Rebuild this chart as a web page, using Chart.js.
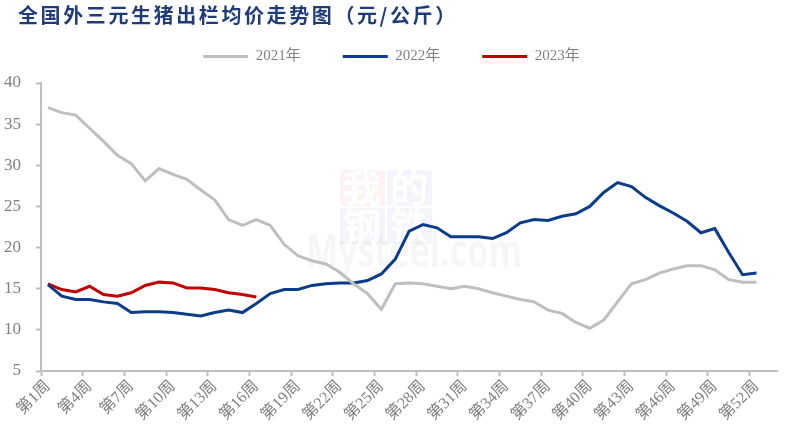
<!DOCTYPE html>
<html>
<head>
<meta charset="utf-8">
<script src="https://cdn.jsdelivr.net/npm/chart.js@4"></script>
<style>
    html, body { margin: 0; padding: 0; background: #fff; }
    #wrap { position: relative; width: 785px; height: 432px; }
    #title {
        position: absolute; left: 18px; top: 0px;
        font-family: "Noto Sans CJK SC", sans-serif; font-weight: bold;
        font-size: 20px; color: #1F3C7A; letter-spacing: 2.6px;
    }
</style>
</head>
<body>
<div id="wrap">
    <div id="title">全国外三元生猪出栏均价走势图（元/公斤）</div>
    <canvas id="priceChart" width="785" height="432"></canvas>
</div>
<script>
// weekly average price, yuan/kg
const weeks = [];
for (let i = 1; i <= 53; i++) weeks.push('第' + i + '周');

const price2021 = [37.0, 36.4, 36.1, 34.5, 32.9, 31.2, 30.2, 28.1, 29.6, 28.9,
    28.3, 27.0, 25.8, 23.4, 22.7, 23.4, 22.7, 20.4, 19.0, 18.4,
    18.0, 17.0, 15.6, 14.4, 12.5, 15.6, 15.7, 15.6, 15.3, 15.0,
    15.3, 15.0, 14.5, 14.1, 13.7, 13.4, 12.4, 12.0, 10.9, 10.2,
    11.2, 13.4, 15.6, 16.1, 16.9, 17.4, 17.8, 17.8, 17.3, 16.1,
    15.8, 15.8];

const price2022 = [15.5, 14.1, 13.7, 13.7, 13.4, 13.2, 12.1, 12.2, 12.2, 12.1,
    11.9, 11.7, 12.1, 12.4, 12.1, 13.2, 14.4, 14.9, 14.9, 15.4,
    15.6, 15.7, 15.7, 16.0, 16.8, 18.6, 22.0, 22.8, 22.4, 21.3,
    21.3, 21.3, 21.1, 21.8, 23.0, 23.4, 23.3, 23.8, 24.1, 25.0,
    26.7, 27.9, 27.4, 26.1, 25.1, 24.2, 23.2, 21.8, 22.3, 19.4,
    16.7, 16.9];

const price2023 = [15.6, 14.9, 14.6, 15.3, 14.3, 14.1, 14.5, 15.4, 15.8, 15.7,
    15.1, 15.1, 14.9, 14.5, 14.3, 14.0];

const yTicks = [5, 10, 15, 20, 25, 30, 35, 40];

const axisGray = '#BFBFBF';
const textGray = '#808080';
const serif = '"Liberation Serif", "Noto Sans CJK SC", serif';

// extra room between legend and plot
const legendSpacer = {
    id: 'legendSpacer',
    beforeInit(chart) {
        const fit = chart.legend.fit;
        chart.legend.fit = function() {
            fit.call(this);
            this.height += 9;
        };
    }
};

// faint site watermark behind the lines
const watermark = {
    id: 'watermark',
    beforeDatasetsDraw(chart) {
        const c = chart.ctx;
        c.save();
        const boxes = [
            { ch: '我', x: 340, y: 170, tint: 'rgba(220,80,80,0.07)' },
            { ch: '的', x: 387, y: 170, tint: 'rgba(60,90,170,0.06)' },
            { ch: '钢', x: 340, y: 208, tint: 'rgba(60,90,170,0.06)' },
            { ch: '铁', x: 387, y: 208, tint: 'rgba(60,90,170,0.06)' }
        ];
        c.font = 'bold 38px "Noto Sans CJK SC"';
        c.textAlign = 'center';
        c.textBaseline = 'middle';
        boxes.forEach(b => {
            c.fillStyle = b.tint;
            c.fillRect(b.x, b.y, 45, 36);
            c.fillStyle = 'rgba(255,255,255,0.9)';
            c.fillText(b.ch, b.x + 22, b.y + 18);
        });
        c.font = 'bold 46px "Open Sans", sans-serif';
        c.textAlign = 'left';
        c.textBaseline = 'alphabetic';
        c.fillStyle = 'rgba(0,0,0,0.035)';
        c.fillText('Mysteel.com', 306, 267, 216);
        c.restore();
    }
};

const ctx = document.getElementById('priceChart').getContext('2d');
new Chart(ctx, {
    type: 'line',
    data: {
        labels: weeks,
        datasets: [
            { label: '2021年', data: price2021, borderColor: '#BFBFBF', backgroundColor: '#BFBFBF', borderWidth: 3 },
            { label: '2022年', data: price2022, borderColor: '#0B3C87', backgroundColor: '#0B3C87', borderWidth: 3 },
            { label: '2023年', data: price2023, borderColor: '#C00000', backgroundColor: '#C00000', borderWidth: 3 }
        ]
    },
    options: {
        responsive: false,
        animation: false,
        layout: { padding: { left: 0, right: 2, top: 7, bottom: 0 } },
        elements: {
            line: { borderWidth: 3, tension: 0 },
            point: { radius: 0 }
        },
        plugins: {
            legend: {
                labels: {
                    usePointStyle: true,
                    pointStyle: 'line',
                    pointStyleWidth: 45,
                    padding: 42,
                    color: textGray,
                    font: { family: serif, size: 15 }
                }
            },
            tooltip: { enabled: false }
        },
        scales: {
            x: {
                offset: true,
                grid: {
                    offset: true,
                    drawOnChartArea: false,
                    tickLength: 5,
                    tickColor: c => (c.index % 3 === 0 ? axisGray : 'transparent'),
                    tickWidth: 2
                },
                border: { color: axisGray, width: 2 },
                ticks: {
                    autoSkip: false,
                    maxRotation: 45,
                    minRotation: 45,
                    padding: 1,
                    color: textGray,
                    font: { family: serif, size: 16 },
                    callback: function(val, idx) {
                        return idx % 3 === 0 ? this.getLabelForValue(val) : '';
                    }
                },
                afterFit: scale => { scale.height = 61; }
            },
            y: {
                min: 5,
                max: 40,
                afterBuildTicks: scale => { scale.ticks = yTicks.map(v => ({ value: v })); },
                grid: {
                    drawOnChartArea: false,
                    tickLength: 5,
                    tickColor: axisGray,
                    tickWidth: 2
                },
                border: { color: axisGray, width: 2 },
                ticks: {
                    padding: 15,
                    color: textGray,
                    font: { family: serif, size: 17 }
                },
                afterFit: scale => { scale.width = 41; }
            }
        }
    },
    plugins: [legendSpacer, watermark]
});
</script>
</body>
</html>
